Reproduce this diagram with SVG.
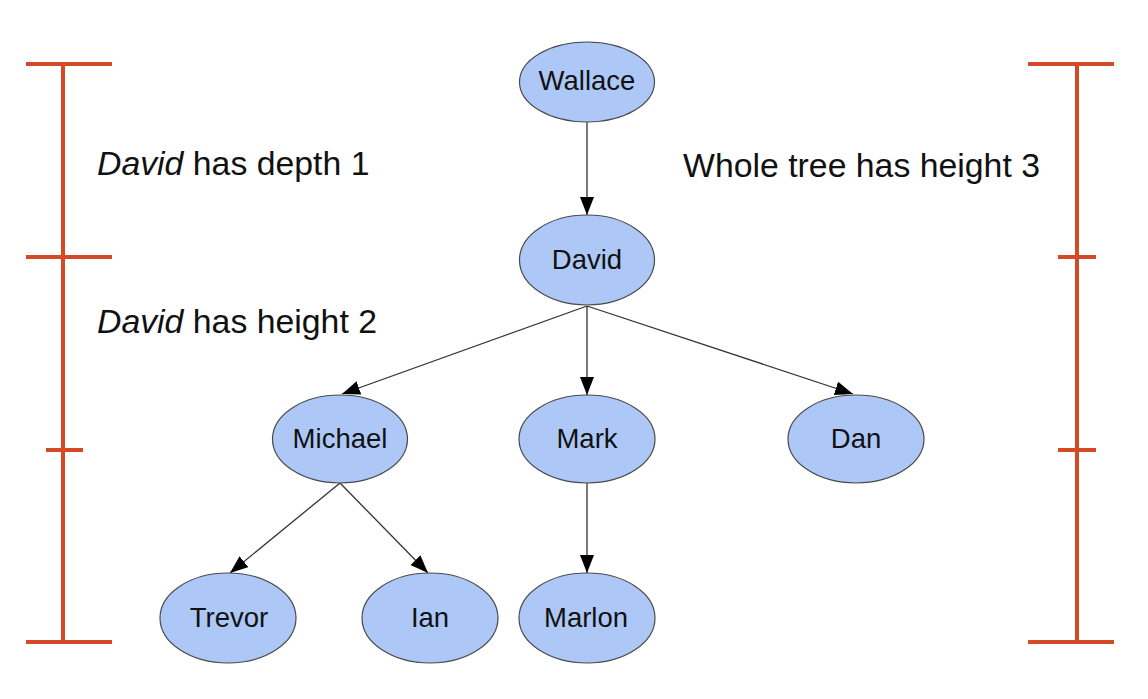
<svg xmlns="http://www.w3.org/2000/svg" width="1148" height="699" viewBox="0 0 1148 699">
<style>
.bar{stroke:#d44a26;stroke-width:4;fill:none}
.node ellipse{fill:#adc8f7;stroke:#4a4a4a;stroke-width:1.2}
.node text{font-family:"Liberation Sans",Arial,sans-serif;font-size:27.5px;fill:#111;text-anchor:middle}
.edge{stroke:#333;stroke-width:1.3;fill:none;marker-end:url(#arrow)}
.lbl{font-family:"Liberation Sans",Arial,sans-serif;font-size:33.8px;fill:#111}
</style>
<defs>
<marker id="arrow" markerUnits="userSpaceOnUse" markerWidth="18" markerHeight="14" refX="18" refY="7" orient="auto">
<path d="M0,0 L18,7 L0,14 z" fill="#000"/>
</marker>
</defs>
<rect width="1148" height="699" fill="#fff"/>
<g id="left-bar">
<line class="bar" x1="63" y1="64" x2="63" y2="642"/>
<line class="bar" x1="26" y1="64" x2="112" y2="64"/>
<line class="bar" x1="26" y1="257" x2="112" y2="257"/>
<line class="bar" x1="46" y1="450" x2="83" y2="450"/>
<line class="bar" x1="26" y1="642" x2="112" y2="642"/>
</g>
<g id="right-bar">
<line class="bar" x1="1077" y1="64" x2="1077" y2="642"/>
<line class="bar" x1="1028" y1="64" x2="1114" y2="64"/>
<line class="bar" x1="1058" y1="257" x2="1096" y2="257"/>
<line class="bar" x1="1058" y1="450" x2="1096" y2="450"/>
<line class="bar" x1="1028" y1="642" x2="1114" y2="642"/>
</g>
<g id="labels">
<text class="lbl" x="97" y="175"><tspan font-style="italic">David</tspan> has depth 1</text>
<text class="lbl" x="97" y="333"><tspan font-style="italic">David</tspan> has height 2</text>
<text class="lbl" x="683" y="177">Whole tree has height 3</text>
</g>
<g id="connectors">
<line class="edge" x1="587" y1="122" x2="587" y2="215"/>
<line class="edge" x1="587" y1="306" x2="342" y2="394"/>
<line class="edge" x1="587" y1="306" x2="587" y2="395"/>
<line class="edge" x1="587" y1="306" x2="853" y2="394"/>
<line class="edge" x1="340" y1="483" x2="230" y2="573"/>
<line class="edge" x1="340" y1="483" x2="428" y2="573"/>
<line class="edge" x1="587" y1="483" x2="587" y2="573"/>
</g>
<g id="node-wallace" class="node"><ellipse cx="587" cy="82" rx="67.5" ry="40"/><text x="587" y="90">Wallace</text></g>
<g id="node-david" class="node"><ellipse cx="587" cy="260" rx="67.5" ry="45"/><text x="587" y="269">David</text></g>
<g id="node-michael" class="node"><ellipse cx="340" cy="439" rx="67.5" ry="44"/><text x="340" y="448">Michael</text></g>
<g id="node-mark" class="node"><ellipse cx="587" cy="439" rx="68" ry="44"/><text x="587" y="448">Mark</text></g>
<g id="node-dan" class="node"><ellipse cx="856" cy="439" rx="68" ry="44"/><text x="856" y="448">Dan</text></g>
<g id="node-trevor" class="node"><ellipse cx="228" cy="618" rx="68" ry="45"/><text x="229" y="627">Trevor</text></g>
<g id="node-ian" class="node"><ellipse cx="430" cy="618" rx="68" ry="45"/><text x="430" y="627">Ian</text></g>
<g id="node-marlon" class="node"><ellipse cx="587" cy="618" rx="68" ry="45"/><text x="586" y="627">Marlon</text></g>
</svg>
